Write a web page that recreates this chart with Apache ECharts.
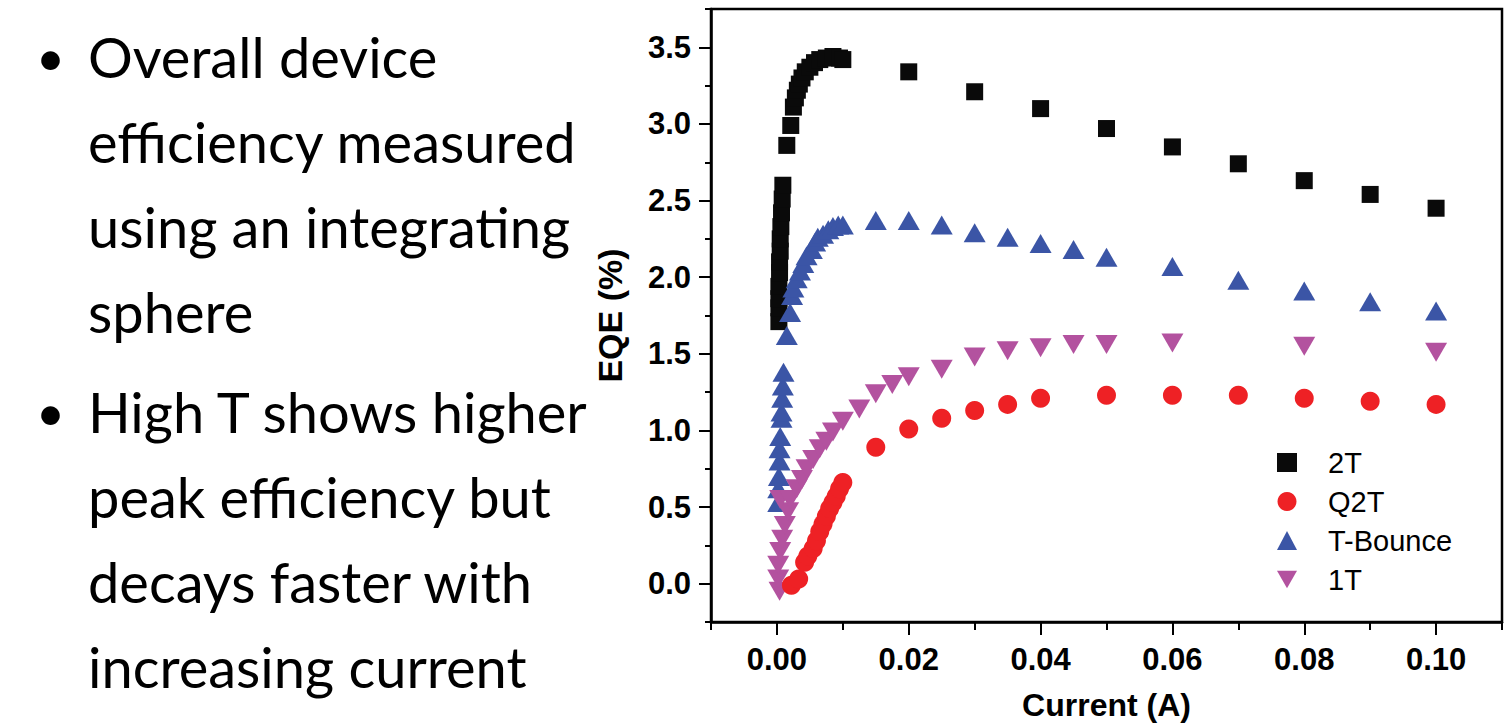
<!DOCTYPE html>
<html>
<head>
<meta charset="utf-8">
<script src="https://cdn.jsdelivr.net/npm/echarts@6/dist/echarts.min.js"></script>
<style>
html,body{margin:0;padding:0;background:#fff;}
#chart{width:1504px;height:727px;}
</style>
</head>
<body>
<div id="chart"></div>
<script>
// ---- Data (current in A, EQE in %) ----
const seriesNames = ['2T', 'Q2T', 'T-Bounce', '1T'];

const data2T = [
  [0.0003,1.71],[0.0003,1.80],[0.0003,1.86],[0.0003,1.94],[0.0004,2.03],[0.0004,2.10],
  [0.0005,2.17],[0.0005,2.25],[0.0006,2.33],[0.0007,2.42],[0.0008,2.51],[0.0009,2.60],
  [0.0015,2.86],[0.0021,2.99],[0.0025,3.11],[0.0028,3.17],[0.0031,3.22],[0.0034,3.26],
  [0.0038,3.30],[0.0043,3.34],[0.0050,3.37],[0.0057,3.40],[0.0065,3.42],[0.0075,3.43],
  [0.0085,3.44],[0.0095,3.43],[0.0100,3.42],
  [0.02,3.34],[0.03,3.21],[0.04,3.10],[0.05,2.97],[0.06,2.85],[0.07,2.74],[0.08,2.63],
  [0.09,2.54],[0.10,2.45]
];

const dataQ2T = [
  [0.0022,-0.01],[0.0033,0.03],[0.0042,0.14],[0.0047,0.18],[0.0055,0.23],[0.0060,0.28],
  [0.0065,0.34],[0.0070,0.39],[0.0075,0.44],[0.0080,0.49],[0.0085,0.53],[0.0090,0.57],
  [0.0095,0.62],[0.0100,0.66],
  [0.015,0.89],[0.02,1.01],[0.025,1.08],[0.03,1.13],[0.035,1.17],[0.04,1.21],[0.05,1.23],
  [0.06,1.23],[0.07,1.23],[0.08,1.21],[0.09,1.19],[0.10,1.17]
];

const dataTBounce = [
  [0.0002,0.53],[0.0002,0.62],[0.0003,0.70],[0.0004,0.80],[0.0004,0.88],[0.0005,0.96],
  [0.0007,1.08],[0.0007,1.12],[0.0008,1.21],[0.0009,1.29],[0.0010,1.38],[0.0015,1.62],
  [0.0020,1.77],[0.0023,1.88],[0.0025,1.93],[0.0030,1.99],[0.0035,2.04],[0.0040,2.09],
  [0.0045,2.14],[0.0053,2.18],[0.0058,2.23],[0.0062,2.26],[0.0070,2.28],[0.0078,2.31],
  [0.0085,2.33],[0.0093,2.34],[0.0100,2.34],
  [0.015,2.37],[0.02,2.37],[0.025,2.34],[0.03,2.29],[0.035,2.26],[0.04,2.22],[0.045,2.18],
  [0.05,2.13],[0.06,2.07],[0.07,1.98],[0.08,1.91],[0.09,1.84],[0.10,1.78]
];

const data1T = [
  [0.0004,-0.05],[0.0002,0.03],[0.0002,0.12],[0.0005,0.21],[0.0008,0.29],[0.0012,0.38],
  [0.0017,0.47],[0.0005,0.55],[0.0020,0.55],[0.0030,0.62],[0.0038,0.68],[0.0045,0.75],
  [0.0055,0.81],[0.0065,0.88],[0.0075,0.93],[0.0085,0.99],[0.0100,1.06],
  [0.0125,1.14],[0.015,1.24],[0.0175,1.30],[0.02,1.35],[0.025,1.40],[0.03,1.48],
  [0.035,1.52],[0.04,1.54],[0.045,1.56],[0.05,1.56],[0.06,1.57],[0.08,1.55],[0.10,1.51]
];

const xMajorTicks = [0, 0.02, 0.04, 0.06, 0.08, 0.10];
const yMajorTicks = [0, 0.5, 1.0, 1.5, 2.0, 2.5, 3.0, 3.5];

const bulletLines = [
  ['Overall device', 'efficiency measured', 'using an integrating', 'sphere'],
  ['High T shows higher', 'peak efficiency but', 'decays faster with', 'increasing current']
];

// ---- Chart ----
const chart = echarts.init(document.getElementById('chart'), null, {renderer: 'svg'});

const labelFont = {fontFamily: 'Liberation Sans, Arial, sans-serif', fontWeight: 'bold', color: '#000'};

const graphics = [];
const rowStarts = [62, 417];
bulletLines.forEach((lines, bi) => {
  graphics.push({
    type: 'text', left: 36, top: rowStarts[bi] - 30,
    style: {text: '\u2022', font: '50px Lato', fill: '#000'}
  });
  lines.forEach((t, li) => {
    graphics.push({
      type: 'text', left: 88, top: rowStarts[bi] + li * 85 - 34,
      style: {text: t, font: '56px Lato', fill: '#000'}
    });
  });
});

const downTriangle = 'path://M0,0 L22,0 L11,19 Z';

const option = {
  animation: false,
  backgroundColor: '#fff',
  graphic: graphics,
  grid: {
    left: 711, right: 2, top: 9, bottom: 105,
    outerBoundsMode: 'none', containLabel: false,
    show: true, borderColor: '#000', borderWidth: 2.5, backgroundColor: 'transparent'
  },
  legend: {
    orient: 'vertical',
    left: 1272, top: 443,
    itemWidth: 20, itemHeight: 19, itemGap: 10,
    data: [
      {name: '2T'}, {name: 'Q2T'}, {name: 'T-Bounce'},
      {name: '1T', icon: downTriangle}
    ],
    textStyle: {fontFamily: 'Liberation Sans, Arial, sans-serif', fontSize: 29, color: '#000', padding: [0, 0, 0, 26]}
  },
  xAxis: [
    {
      type: 'value', min: -0.01, max: 0.11, interval: 0.01,
      name: 'Current (A)', nameLocation: 'middle', nameGap: 67,
      nameTextStyle: Object.assign({fontSize: 32}, labelFont),
      splitLine: {show: false},
      axisLine: {onZero: false, lineStyle: {color: '#000', width: 2.5}},
      axisTick: {length: 8, lineStyle: {color: '#000', width: 2}},
      axisLabel: {
        margin: 22, fontSize: 31, ...labelFont,
        formatter: v => {
          const k = Math.round(v * 100);
          return (k >= 0 && k % 2 === 0 && k <= 10) ? (k / 100).toFixed(2) : '';
        }
      }
    },
    {
      type: 'value', min: -0.01, max: 0.11, position: 'bottom', gridIndex: 0,
      splitLine: {show: false},
      axisLine: {show: false, onZero: false},
      axisTick: {length: 13, customValues: xMajorTicks, lineStyle: {color: '#000', width: 2}},
      axisLabel: {show: false}
    }
  ],
  yAxis: [
    {
      type: 'value', min: -0.25, max: 3.75, interval: 0.25,
      name: 'EQE (%)', nameLocation: 'middle', nameGap: 84,
      nameTextStyle: Object.assign({fontSize: 34}, labelFont),
      splitLine: {show: false},
      axisLine: {onZero: false, lineStyle: {color: '#000', width: 2.5}},
      axisTick: {length: 6, lineStyle: {color: '#000', width: 2}},
      axisLabel: {
        margin: 20, fontSize: 31, ...labelFont,
        formatter: v => {
          const k = Math.round(v * 4);
          if (k < 0 || k % 2 !== 0) return '';
          return (k / 4).toFixed(1);
        }
      }
    },
    {
      type: 'value', min: -0.25, max: 3.75, position: 'left', gridIndex: 0,
      splitLine: {show: false},
      axisLine: {show: false, onZero: false},
      axisTick: {length: 12, customValues: yMajorTicks, lineStyle: {color: '#000', width: 2}},
      axisLabel: {show: false}
    }
  ],
  series: [
    {name: '2T', type: 'scatter', data: data2T, symbol: 'rect', symbolSize: 17,
     itemStyle: {color: '#0a0a0a', opacity: 1}},
    {name: 'T-Bounce', type: 'scatter', data: dataTBounce, symbol: 'triangle', symbolSize: [22, 19],
     itemStyle: {color: '#3b55a6', opacity: 1}},
    {name: '1T', type: 'scatter', data: data1T, symbol: 'triangle', symbolRotate: 180, symbolSize: [22, 19],
     itemStyle: {color: '#b3529f', opacity: 1}},
    {name: 'Q2T', type: 'scatter', data: dataQ2T, symbol: 'circle', symbolSize: 19,
     itemStyle: {color: '#ee2125', opacity: 1}}
  ]
};
chart.setOption(option);
</script>
</body>
</html>
